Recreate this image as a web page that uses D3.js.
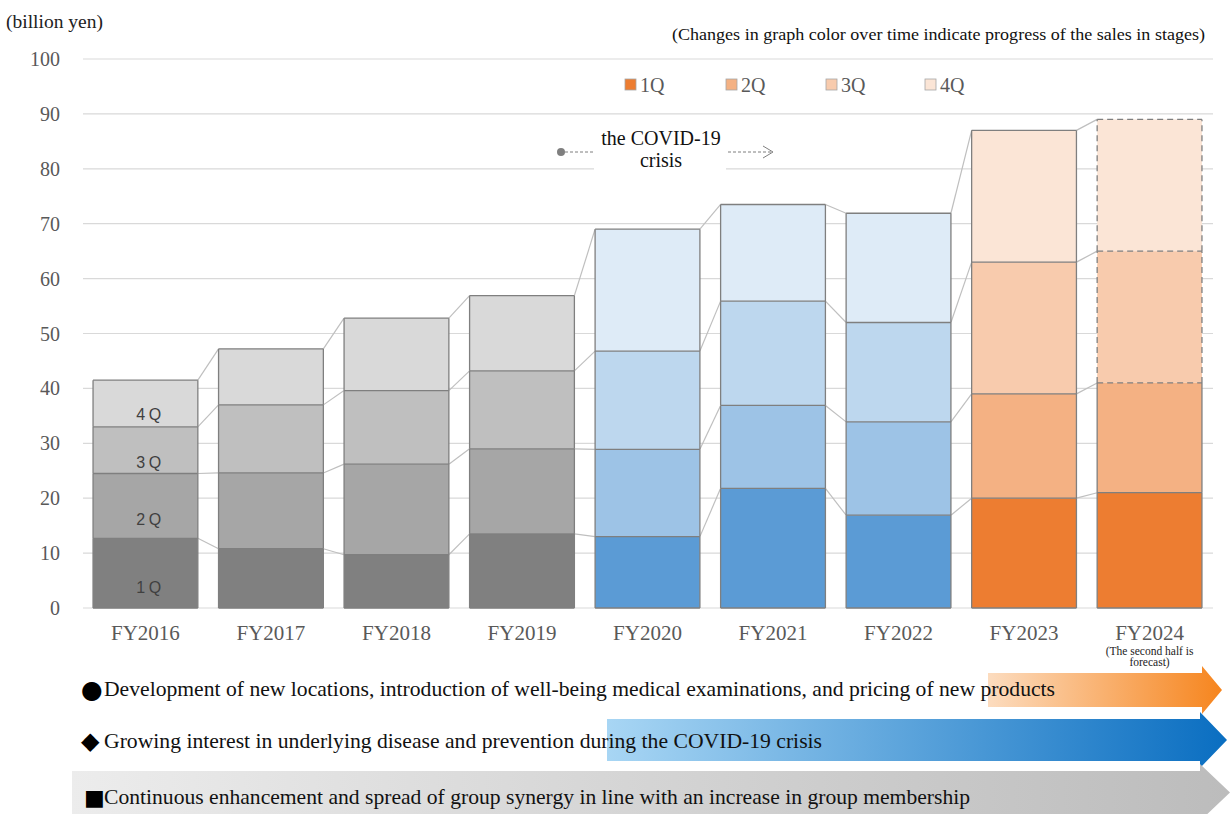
<!DOCTYPE html>
<html><head><meta charset="utf-8">
<script src="https://cdn.jsdelivr.net/npm/d3@7"></script>
<style>
html,body{margin:0;padding:0;background:#fff;}
svg{display:block;}
</style></head>
<body>
<svg id="chart" width="1232" height="814"></svg>
<script>
const categories = ["FY2016","FY2017","FY2018","FY2019","FY2020","FY2021","FY2022","FY2023","FY2024"];
const q1 = [12.7,10.8,9.7,13.5,13.0,21.8,16.9,20.0,21.0];
const q2 = [11.8,13.8,16.5,15.5,15.9,15.1,17.0,19.0,20.0];
const q3 = [8.5,12.4,13.4,14.2,17.9,19.0,18.1,24.0,24.0];
const q4 = [8.5,10.2,13.2,13.7,22.2,17.6,19.9,24.0,24.0];
const stages = ["gray","gray","gray","gray","blue","blue","blue","orange","orange"];
const forecastSecondHalf = [false,false,false,false,false,false,false,false,true];
const quarterNames = ["1Q","2Q","3Q","4Q"];
const yTicks = [0,10,20,30,40,50,60,70,80,90,100];
const palette = {
  gray:["#808080","#a6a6a6","#bfbfbf","#d9d9d9"],
  blue:["#5b9bd5","#9dc3e6","#bdd7ee","#deebf7"],
  orange:["#ed7d31","#f4b183","#f8cbad","#fbe5d6"]
};
const arrowSymbols = ["●","◆","■"];
const arrowTexts = [
  "Development of new locations, introduction of well-being medical examinations, and pricing of new products",
  "Growing interest in underlying disease and prevention during the COVID-19 crisis",
  "Continuous enhancement and spread of group synergy in line with an increase in group membership"
];

const SERIF = "'Liberation Serif','Times New Roman',serif";
const svg = d3.select("#chart");

const x = d3.scaleBand().domain(categories).range([83,1212]).paddingInner(0.165).paddingOuter(0.08);
const y = d3.scaleLinear().domain([0,100]).range([608,59]);
const bw = x.bandwidth();

// gridlines
svg.append("g").selectAll("line").data(yTicks).join("line")
  .attr("x1",83).attr("x2",1213).attr("y1",d=>y(d)).attr("y2",d=>y(d))
  .attr("stroke","#d9d9d9").attr("stroke-width",1.2);

// y labels
svg.append("g").selectAll("text").data(yTicks).join("text")
  .attr("x",60).attr("y",d=>y(d)).attr("text-anchor","end").attr("dominant-baseline","central")
  .attr("font-family",SERIF).attr("font-size",20).attr("fill","#595959").text(d=>d);

// stacked data
const series = [q1,q2,q3,q4];
const stacks = categories.map((c,i)=>{
  let acc=0; return series.map((s,k)=>{const y0=acc; acc+=s[i]; return {cat:c,i,k,y0,y1:acc};});
});

// connectors
const conn = svg.append("g");
for(let i=0;i<categories.length-1;i++){
  for(let k=0;k<4;k++){
    conn.append("line")
      .attr("x1",x(categories[i])+bw).attr("y1",y(stacks[i][k].y1))
      .attr("x2",x(categories[i+1])).attr("y2",y(stacks[i+1][k].y1))
      .attr("stroke","#bfbfbf").attr("stroke-width",1.2);
  }
}

// bars
const bars = svg.append("g");
stacks.forEach((segs,i)=>{
  const x0 = x(categories[i]), x1 = x0+bw;
  segs.forEach(s=>{
    bars.append("rect").attr("x",x0).attr("y",y(s.y1)).attr("width",bw).attr("height",y(s.y0)-y(s.y1))
      .attr("fill",palette[stages[i]][s.k]);
  });
  segs.forEach(s=>{
    const dashed = forecastSecondHalf[i] && s.k>=2;
    const dashedTop = forecastSecondHalf[i] && s.k>=1;
    const st = "#7f7f7f";
    const yt=y(s.y1), yb=y(s.y0);
    const edges = [
      [x0,yb,x0,yt,dashed],[x1,yb,x1,yt,dashed],[x0,yt,x1,yt,dashedTop]
    ];
    if(s.k===0) edges.push([x0,yb,x1,yb,false]);
    edges.forEach(e=>{
      bars.append("line").attr("x1",e[0]).attr("y1",e[1]).attr("x2",e[2]).attr("y2",e[3])
        .attr("stroke",st).attr("stroke-width",1.3)
        .attr("stroke-dasharray",e[4]?"6,4":null);
    });
  });
});

// in-bar labels for first bar
const offs=[21,19,11,12];
stacks[0].forEach(s=>{
  svg.append("text").attr("x",x(categories[0])+bw/2+5).attr("y",y(s.y0)-offs[s.k])
    .attr("text-anchor","middle").attr("dominant-baseline","central")
    .attr("font-family","'Liberation Sans',Arial,sans-serif").attr("font-size",16)
    .attr("letter-spacing","3.5px").attr("fill","#404040").text(quarterNames[s.k]);
});

// x labels
svg.append("g").selectAll("text").data(categories).join("text")
  .attr("x",d=>x(d)+bw/2).attr("y",633).attr("text-anchor","middle").attr("dominant-baseline","central")
  .attr("font-family",SERIF).attr("font-size",21).attr("fill","#595959").text(d=>d);
const lastC = categories[categories.length-1];
["(The second half is","forecast)"].forEach((t,j)=>{
  svg.append("text").attr("x",x(lastC)+bw/2).attr("y",651+j*11).attr("text-anchor","middle")
    .attr("dominant-baseline","central").attr("font-family",SERIF).attr("font-size",11.5)
    .attr("fill","#222").text(t);
});

// titles
svg.append("text").attr("x",6).attr("y",28).attr("font-family",SERIF).attr("font-size",18)
  .attr("textLength",97).attr("lengthAdjust","spacingAndGlyphs")
  .attr("fill","#222").text("(billion yen)");
svg.append("text").attr("x",672).attr("y",40).attr("font-family",SERIF).attr("font-size",17.5)
  .attr("textLength",533).attr("lengthAdjust","spacingAndGlyphs")
  .attr("fill","#111").text("(Changes in graph color over time indicate progress of the sales in stages)");

// legend
const legX=[625,726,826,925];
quarterNames.forEach((q,k)=>{
  svg.append("rect").attr("x",legX[k]).attr("y",79).attr("width",11).attr("height",11)
    .attr("fill",palette.orange[k]).attr("stroke","#a6a6a6").attr("stroke-width",0.8);
  svg.append("text").attr("x",legX[k]+15).attr("y",85).attr("dominant-baseline","central")
    .attr("font-family",SERIF).attr("font-size",20).attr("fill","#595959").text(q);
});

// COVID annotation
svg.append("rect").attr("x",594).attr("y",126).attr("width",132).attr("height",47).attr("fill","#fff");
svg.append("circle").attr("cx",561).attr("cy",152).attr("r",4).attr("fill","#7f7f7f");
svg.append("line").attr("x1",565).attr("x2",594).attr("y1",152).attr("y2",152)
  .attr("stroke","#7f7f7f").attr("stroke-dasharray","3,2").attr("stroke-width",1);
svg.append("line").attr("x1",728).attr("x2",772).attr("y1",152).attr("y2",152)
  .attr("stroke","#7f7f7f").attr("stroke-dasharray","3,2").attr("stroke-width",1);
svg.append("path").attr("d","M763,146 L773,152 L763,158").attr("fill","none").attr("stroke","#7f7f7f").attr("stroke-width",1);
svg.append("text").attr("x",661).attr("y",145).attr("text-anchor","middle").attr("font-family",SERIF)
  .attr("font-size",20).attr("fill","#111").text("the COVID-19");
svg.append("text").attr("x",661).attr("y",167).attr("text-anchor","middle").attr("font-family",SERIF)
  .attr("font-size",20).attr("fill","#111").text("crisis");

// arrows
const defs = svg.append("defs");
const grads = [
  {id:"gO",c0:"#fcdcbf",c1:"#f6851e"},
  {id:"gB",c0:"#a8d6f4",c1:"#0a6ec1"},
  {id:"gG",c0:"#ececec",c1:"#bcbcbc"}
];
grads.forEach(g=>{
  const lg = defs.append("linearGradient").attr("id",g.id).attr("x1","0").attr("x2","1").attr("y1","0").attr("y2","0");
  lg.append("stop").attr("offset","0%").attr("stop-color",g.c0);
  lg.append("stop").attr("offset","100%").attr("stop-color",g.c1);
});
const arrows = [
  {x0:988,xh:1202,tip:1222,top:673,bot:707,htop:666,hbot:714,g:"gO"},
  {x0:607,xh:1200,tip:1227,top:719,bot:761,htop:712,hbot:768,g:"gB"},
  {x0:72,xh:1200,tip:1230,top:771,bot:814,htop:764,hbot:821,g:"gG"}
];
arrows.forEach(a=>{
  const mid=(a.top+a.bot)/2;
  svg.append("path").attr("d",`M${a.x0},${a.top} L${a.xh},${a.top} L${a.xh},${a.htop} L${a.tip},${mid} L${a.xh},${a.hbot} L${a.xh},${a.bot} L${a.x0},${a.bot} Z`)
    .attr("fill",`url(#${a.g})`);
});
const textY=[689,741,797];
const textStart=[104,104,104];
const textEnd=[1055,822,970];
const symSize=[25,24,22];
const symX=[81,81,84];
arrowTexts.forEach((t,j)=>{
  svg.append("text").attr("x",symX[j]).attr("y",textY[j]).attr("dominant-baseline","central")
    .attr("font-family","'DejaVu Sans',sans-serif").attr("font-size",symSize[j]).attr("fill","#000").text(arrowSymbols[j]);
  svg.append("text").attr("x",textStart[j]).attr("y",textY[j]).attr("dominant-baseline","central")
    .attr("font-family",SERIF).attr("font-size",21)
    .attr("textLength",textEnd[j]-textStart[j]).attr("lengthAdjust","spacingAndGlyphs")
    .attr("fill","#111").text(t);
});
</script>
</body></html>
